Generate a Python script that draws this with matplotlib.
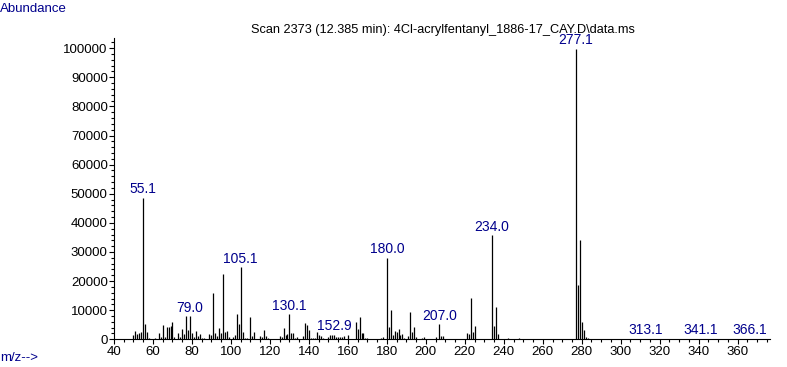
import matplotlib
matplotlib.use("Agg")
import matplotlib.pyplot as plt
from matplotlib.ticker import MultipleLocator

# peaks (m/z, abundance)
mz = [50, 51, 52, 53, 54, 55, 56, 57, 58, 61, 63, 64, 65, 66, 67, 68, 69, 70,
      71, 73, 74, 75, 76, 77, 78, 79, 80, 81, 82, 83, 84, 85, 86, 89, 90, 91,
      92, 93, 94, 95, 96, 97, 98, 99, 101, 102, 103, 104, 105, 106, 107, 108,
      110, 111, 112, 115, 116, 117, 118, 119, 125, 126, 127, 128, 129, 130,
      131, 132, 133, 134, 137, 138, 139, 140, 141, 142, 143, 144, 145, 146,
      147, 150, 151, 152, 153, 154, 155, 156, 157, 158, 160, 164, 165, 166,
      167, 168, 169, 170, 177, 178, 180, 181, 182, 183, 184, 185, 186, 187,
      188, 189, 191, 192, 193, 194, 195, 198, 199, 205, 207, 208, 209, 221,
      222, 223, 224, 225, 234, 235, 236, 237, 242, 248, 277, 278, 279, 280,
      281, 282, 283, 313, 341, 366]
abundance = [1400, 2700, 1900, 2200, 2400, 48700, 5400, 2400, 600, 500, 2000,
             800, 4800, 800, 4100, 4300, 4500, 6100, 800, 2000, 800, 3700,
             1800, 7900, 3300, 7900, 2200, 800, 3000, 1100, 1700, 600, 300,
             1700, 1500, 16000, 2200, 1000, 4000, 2200, 22400, 2500, 3000, 800,
             800, 1500, 8800, 5100, 24800, 2400, 500, 300, 7600, 1300, 2400,
             1100, 900, 3100, 1100, 600, 1300, 700, 4000, 1500, 1700, 8600,
             2300, 2300, 600, 900, 1000, 5500, 4800, 3100, 600, 600, 600, 2400,
             1600, 1000, 600, 900, 1500, 1600, 1600, 800, 800, 800, 900, 1100,
             1600, 5800, 3400, 7600, 2000, 2000, 500, 500, 400, 700, 28000,
             4100, 10100, 1400, 2700, 2400, 3400, 1600, 1700, 300, 1000, 9300,
             2400, 4100, 700, 300, 700, 700, 5200, 1000, 1000, 2100, 1700,
             14100, 2400, 4500, 35700, 4500, 11000, 1700, 300, 300, 99800,
             18500, 34200, 6000, 3200, 900, 300, 200, 200, 200]

# labelled peaks
label_mz = [55, 79, 105, 130, 153, 180, 207, 234, 277, 313, 341, 366]
label_txt = ["55.1", "79.0", "105.1", "130.1", "152.9", "180.0", "207.0",
             "234.0", "277.1", "313.1", "341.1", "366.1"]

title = "Scan 2373 (12.385 min): 4Cl-acrylfentanyl_1886-17_CAY.D\\data.ms"
navy = "#00008c"

plt.rcParams["font.family"] = ["Liberation Sans", "DejaVu Sans"]
plt.rcParams["font.size"] = 9

fig = plt.figure(figsize=(7.87, 3.67), dpi=100)
ax = fig.add_axes([114 / 787, 27.7 / 367, 656 / 787, 301 / 367])

ax.vlines(mz, 0, abundance, color="black", linewidth=0.9)

ab = dict(zip(mz, abundance))
for m, t in zip(label_mz, label_txt):
    ax.annotate(t, (m, ab[m]), xytext=(0, 1), textcoords="offset points",
                ha="center", va="bottom", color=navy, fontsize=10)

ax.set_xlim(40, 376.6)
ax.set_ylim(0, 103400)
ax.xaxis.set_major_locator(MultipleLocator(20))
ax.xaxis.set_minor_locator(MultipleLocator(5))
ax.yaxis.set_major_locator(MultipleLocator(10000))
ax.yaxis.set_minor_locator(MultipleLocator(2000))
ax.set_xticks(range(40, 361, 20))
ax.tick_params(which="major", length=3.5, width=0.8, pad=1, direction="out")
ax.tick_params(which="minor", length=2, width=0.8, direction="out")
ax.tick_params(axis="both", labelsize=9.5)

for s in ["top", "right"]:
    ax.spines[s].set_visible(False)
for s in ["left", "bottom"]:
    ax.spines[s].set_linewidth(0.8)

fig.text(443 / 787, 1 - 30 / 367, title, ha="center", va="center", fontsize=9.2)
fig.text(0, 1 - 9 / 367, "Abundance", ha="left", va="center",
         color=navy, fontsize=9.5)
fig.text(0, 1 - 358 / 367, "m/z-->", ha="left", va="center",
         color=navy, fontsize=9.5)

fig.savefig("out.png", dpi=100)
